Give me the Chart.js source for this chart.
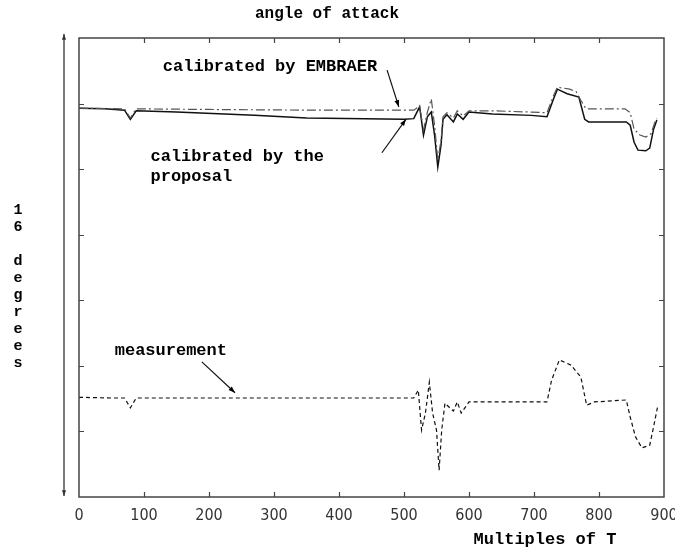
<!DOCTYPE html>
<html>
<head>
<meta charset="utf-8">
<script src="https://cdn.jsdelivr.net/npm/chart.js@4.4.1/dist/chart.umd.min.js"></script>
<style>
  body { margin: 0; background: #fff; }
</style>
</head>
<body>
<canvas id="chart" width="675" height="550"></canvas>
<script>
// tick labels
const xTickValues = [0, 100, 200, 300, 400, 500, 600, 700, 800, 900];
const yTickValues = [0, 1, 2, 3, 4, 5, 6, 7];

// calibrated by the proposal (solid)
const proposalX = [0, 40, 70, 79, 88, 150, 270, 350, 500, 515, 524, 530, 536, 542, 547, 552, 557, 560, 566, 576, 582, 591, 600, 636, 696, 720, 730, 736, 751, 769, 778, 784, 842, 848, 854, 860, 872, 878, 884, 889];
const proposalY = [5.93, 5.92, 5.90, 5.76, 5.89, 5.87, 5.82, 5.78, 5.76, 5.77, 5.95, 5.52, 5.80, 5.87, 5.52, 5.03, 5.37, 5.76, 5.83, 5.72, 5.84, 5.76, 5.87, 5.84, 5.82, 5.80, 6.07, 6.22, 6.15, 6.10, 5.76, 5.72, 5.72, 5.67, 5.41, 5.29, 5.28, 5.32, 5.61, 5.75];

// calibrated by EMBRAER (dash-dot)
const embraerX = [0, 70, 79, 88, 200, 350, 500, 515, 524, 530, 536, 542, 547, 552, 557, 560, 566, 576, 582, 591, 600, 636, 696, 720, 730, 736, 755, 765, 772, 780, 840, 848, 854, 863, 872, 880, 886, 889];
const embraerY = [5.93, 5.92, 5.78, 5.92, 5.91, 5.90, 5.90, 5.90, 5.96, 5.60, 5.87, 6.07, 5.67, 5.14, 5.44, 5.80, 5.86, 5.78, 5.89, 5.81, 5.89, 5.89, 5.87, 5.86, 6.12, 6.25, 6.22, 6.18, 6.05, 5.92, 5.92, 5.86, 5.61, 5.52, 5.49, 5.54, 5.72, 5.77];

// measurement (dashed)
const measureX = [0, 50, 70, 79, 88, 300, 500, 515, 522, 527, 533, 539, 544, 550, 554, 558, 563, 576, 582, 588, 600, 700, 720, 727, 739, 757, 772, 781, 793, 842, 848, 856, 866, 878, 884, 890];
const measureY = [1.52, 1.51, 1.51, 1.36, 1.51, 1.51, 1.51, 1.51, 1.63, 1.02, 1.28, 1.75, 1.28, 1.02, 0.41, 1.02, 1.43, 1.31, 1.45, 1.28, 1.45, 1.45, 1.45, 1.78, 2.09, 2.01, 1.83, 1.40, 1.45, 1.48, 1.22, 0.92, 0.75, 0.79, 1.07, 1.37];

function toPoints(xs, ys) {
  return xs.map((x, i) => ({ x: x, y: ys[i] }));
}

const monoBold = 'bold 17px "Liberation Mono", "DejaVu Sans Mono", monospace';

// text labels with arrows, in data units
const notes = [
  { lines: ['calibrated by EMBRAER'], x: 129, y: 6.56, from: [474, 6.51], to: [492, 5.95] },
  { lines: ['calibrated by the', 'proposal'], x: 110, y: 5.19, from: [466, 5.25], to: [503, 5.76] },
  { lines: ['measurement'], x: 55, y: 2.23, from: [189, 2.06], to: [240, 1.59] },
];

function arrow(ctx, x1, y1, x2, y2, size) {
  const a = Math.atan2(y2 - y1, x2 - x1);
  ctx.beginPath();
  ctx.moveTo(x1, y1);
  ctx.lineTo(x2, y2);
  ctx.stroke();
  ctx.beginPath();
  ctx.moveTo(x2, y2);
  ctx.lineTo(x2 - size * Math.cos(a - 0.35), y2 - size * Math.sin(a - 0.35));
  ctx.lineTo(x2 - size * Math.cos(a + 0.35), y2 - size * Math.sin(a + 0.35));
  ctx.closePath();
  ctx.fill();
}

const framePlugin = {
  id: 'frame',
  afterDraw(chart) {
    const ctx = chart.ctx;
    const a = chart.chartArea;
    const xs = chart.scales.x;
    const ys = chart.scales.y;
    ctx.save();

    // box
    ctx.strokeStyle = '#444';
    ctx.lineWidth = 1.5;
    ctx.strokeRect(a.left, a.top, a.right - a.left, a.bottom - a.top);

    // inward ticks
    ctx.lineWidth = 1.2;
    ctx.beginPath();
    xTickValues.slice(1, -1).forEach(v => {
      const p = Math.round(xs.getPixelForValue(v)) + 0.5;
      ctx.moveTo(p, a.bottom); ctx.lineTo(p, a.bottom - 5);
      ctx.moveTo(p, a.top); ctx.lineTo(p, a.top + 5);
    });
    yTickValues.slice(1, -1).forEach(v => {
      const p = Math.round(ys.getPixelForValue(v)) + 0.5;
      ctx.moveTo(a.left, p); ctx.lineTo(a.left + 5, p);
      ctx.moveTo(a.right, p); ctx.lineTo(a.right - 5, p);
    });
    ctx.stroke();

    // left double arrow
    ctx.strokeStyle = '#333';
    ctx.fillStyle = '#333';
    ctx.lineWidth = 1.3;
    arrow(ctx, a.left - 15, 260, a.left - 15, a.top - 4, 6);
    arrow(ctx, a.left - 15, 260, a.left - 15, a.bottom - 1, 6);

    // title and axis titles
    ctx.fillStyle = '#000';
    ctx.font = 'bold 16px "Liberation Mono", "DejaVu Sans Mono", monospace';
    ctx.textAlign = 'center';
    ctx.textBaseline = 'middle';
    ctx.fillText('angle of attack', 327, 14);
    ctx.font = monoBold;
    ctx.fillText('Multiples of T', 545, 540);

    ctx.font = 'bold 15px "Liberation Mono", "DejaVu Sans Mono", monospace';
    const yLabel = '16 degrees';
    for (let i = 0; i < yLabel.length; i++) {
      ctx.fillText(yLabel[i], 18, 210 + i * 17);
    }

    // annotations
    ctx.font = monoBold;
    ctx.textAlign = 'left';
    ctx.strokeStyle = '#111';
    ctx.fillStyle = '#000';
    ctx.lineWidth = 1.2;
    notes.forEach(n => {
      const tx = xs.getPixelForValue(n.x);
      const ty = ys.getPixelForValue(n.y);
      n.lines.forEach((t, i) => ctx.fillText(t, tx, ty + i * 20));
      arrow(ctx, xs.getPixelForValue(n.from[0]), ys.getPixelForValue(n.from[1]),
        xs.getPixelForValue(n.to[0]), ys.getPixelForValue(n.to[1]), 7);
    });
    ctx.restore();
  }
};

new Chart(document.getElementById('chart'), {
  type: 'line',
  data: {
    datasets: [
      {
        label: 'measurement',
        data: toPoints(measureX, measureY),
        borderColor: '#111',
        borderWidth: 1.2,
        borderDash: [4, 3],
        pointRadius: 0,
        tension: 0,
      },
      {
        label: 'calibrated by EMBRAER',
        data: toPoints(embraerX, embraerY),
        borderColor: '#555',
        borderWidth: 1.2,
        borderDash: [9, 3, 2, 3],
        pointRadius: 0,
        tension: 0,
      },
      {
        label: 'calibrated by the proposal',
        data: toPoints(proposalX, proposalY),
        borderColor: '#111',
        borderWidth: 1.5,
        pointRadius: 0,
        tension: 0,
      },
    ],
  },
  options: {
    responsive: false,
    animation: false,
    layout: {
      padding: { left: 79, right: 11, top: 38, bottom: 0 },
    },
    plugins: {
      legend: { display: false },
      tooltip: { enabled: false },
    },
    scales: {
      x: {
        type: 'linear',
        min: 0,
        max: 900,
        afterFit: (scale) => {
          scale.height = 53;
          scale.paddingLeft = 0;
          scale.paddingRight = 0;
        },
        afterBuildTicks: (scale) => { scale.ticks = xTickValues.map(v => ({ value: v })); },
        grid: { display: false, drawTicks: false },
        border: { display: false },
        ticks: {
          padding: 9,
          color: '#333',
          maxRotation: 0,
          autoSkip: false,
          font: { family: '"Liberation Sans Narrow", "DejaVu Sans Condensed", sans-serif', size: 16 },
        },
      },
      y: {
        type: 'linear',
        display: false,
        min: 0,
        max: 7,
        afterBuildTicks: (scale) => { scale.ticks = yTickValues.map(v => ({ value: v })); },
      },
    },
  },
  plugins: [framePlugin],
});
</script>
</body>
</html>
